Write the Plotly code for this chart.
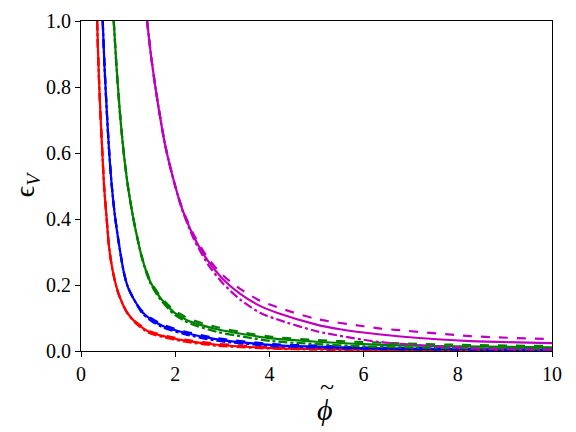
import plotly.graph_objects as go

# valores: phi tilde (x) y epsilon_V (y) para cada curva

# rojo
phi_rojo = [0.342, 0.37, 0.412, 0.45, 0.49, 0.54, 0.589, 0.64, 0.695, 0.80, 0.98, 1.15,
            1.33, 1.473, 1.9, 2.18, 2.89, 4.09, 5.0, 6.0, 8.0, 10.0]
eps_rojo = [1.0, 0.87, 0.72, 0.61, 0.50, 0.41, 0.325, 0.27, 0.228, 0.172, 0.116, 0.088,
            0.068, 0.056, 0.040, 0.032, 0.019, 0.009, 0.006, 0.004, 0.003, 0.002]
phi_rojo_cola = [1.15, 1.33, 1.473, 1.9, 2.18, 2.89, 4.09, 5.0, 6.0, 8.0, 10.0]
eps_rojo_guion = [0.090, 0.071, 0.059, 0.043, 0.035, 0.022, 0.011, 0.008, 0.006, 0.004, 0.003]
eps_rojo_punto = [0.086, 0.065, 0.053, 0.037, 0.029, 0.016, 0.007, 0.004, 0.003, 0.002, 0.001]

# azul
phi_azul = [0.461, 0.50, 0.554, 0.60, 0.652, 0.72, 0.80, 0.907, 1.0, 1.15, 1.30, 1.473,
            1.75, 2.18, 2.89, 4.09, 5.0, 6.0, 7.0, 8.0, 10.0]
eps_azul = [1.0, 0.86, 0.71, 0.60, 0.503, 0.41, 0.33, 0.24, 0.192, 0.15, 0.118, 0.097,
            0.075, 0.056, 0.035, 0.018, 0.013, 0.009, 0.007, 0.006, 0.004]
phi_azul_cola = [1.30, 1.473, 1.75, 2.18, 2.89, 4.09, 5.0, 6.0, 7.0, 8.0, 10.0]
eps_azul_guion = [0.121, 0.101, 0.079, 0.060, 0.039, 0.021, 0.016, 0.011, 0.009, 0.008, 0.006]
eps_azul_punto = [0.115, 0.093, 0.071, 0.052, 0.031, 0.015, 0.010, 0.007, 0.005, 0.004, 0.003]

# verde
phi_verde = [0.695, 0.75, 0.822, 0.90, 0.992, 1.10, 1.20, 1.30, 1.47, 1.69, 1.97, 2.18,
             2.32, 2.89, 3.5, 4.05, 5.0, 6.0, 6.78, 8.0, 10.0]
eps_verde = [1.0, 0.87, 0.73, 0.61, 0.503, 0.41, 0.34, 0.28, 0.21, 0.16, 0.118, 0.099,
             0.089, 0.066, 0.050, 0.038, 0.028, 0.021, 0.017, 0.014, 0.011]
phi_verde_cola = [1.30, 1.47, 1.69, 1.97, 2.18, 2.32, 2.89, 3.5, 4.05, 5.0, 6.0, 6.78, 8.27, 10.0]
eps_verde_guion = [0.282, 0.214, 0.165, 0.124, 0.106, 0.096, 0.072, 0.055, 0.043, 0.033,
                   0.027, 0.023, 0.018, 0.015]
eps_verde_punto = [0.278, 0.206, 0.155, 0.112, 0.093, 0.083, 0.058, 0.042, 0.030, 0.021,
                   0.014, 0.011, 0.008, 0.006]

# magenta
phi_magenta = [1.403, 1.50, 1.65, 1.80, 2.0, 2.15, 2.4, 2.7, 3.0, 3.38, 3.81, 4.16, 5.0,
               5.5, 6.36, 6.78, 8.27, 10.0]
eps_magenta = [1.0, 0.88, 0.735, 0.615, 0.50, 0.43, 0.345, 0.272, 0.22, 0.173, 0.136, 0.116,
               0.080, 0.066, 0.050, 0.044, 0.030, 0.024]
phi_magenta_cola = [2.15, 2.4, 2.7, 3.0, 3.38, 3.81, 4.16, 5.0, 6.0, 6.36, 6.78, 8.27, 10.0]
eps_magenta_guion = [0.433, 0.351, 0.281, 0.231, 0.188, 0.152, 0.133, 0.097, 0.075, 0.068,
                     0.063, 0.045, 0.036]
eps_magenta_punto = [0.427, 0.338, 0.262, 0.207, 0.156, 0.115, 0.096, 0.060, 0.034, 0.027,
                     0.022, 0.008, 0.004]

ejes_x = [0, 2, 4, 6, 8, 10]
ejes_y = [0.0, 0.2, 0.4, 0.6, 0.8, 1.0]


def _unir(phi_base, eps_base, phi_cola, eps_cola):
    # la parte alta coincide con la curva sólida; la cola se separa
    inicio = phi_cola[0]
    xs = [p for p in phi_base if p < inicio] + phi_cola
    ys = [e for p, e in zip(phi_base, eps_base) if p < inicio] + eps_cola
    return xs, ys


curvas = [
    ("red", phi_rojo, eps_rojo, phi_rojo_cola, eps_rojo_guion, eps_rojo_punto),
    ("blue", phi_azul, eps_azul, phi_azul_cola, eps_azul_guion, eps_azul_punto),
    ("green", phi_verde, eps_verde, phi_verde_cola, eps_verde_guion, eps_verde_punto),
    ("#bf00bf", phi_magenta, eps_magenta, phi_magenta_cola, eps_magenta_guion, eps_magenta_punto),
]

fig = go.Figure()

for color, phi, eps, phi_cola, eps_g, eps_p in curvas:
    fig.add_trace(go.Scatter(x=phi, y=eps, mode="lines",
                             line=dict(color=color, width=2.2, shape="spline", smoothing=0.8)))
    xs, ys = _unir(phi, eps, phi_cola, eps_g)
    fig.add_trace(go.Scatter(x=xs, y=ys, mode="lines",
                             line=dict(color=color, width=2.2, dash="dash", shape="spline", smoothing=0.8)))
    xs, ys = _unir(phi, eps, phi_cola, eps_p)
    fig.add_trace(go.Scatter(x=xs, y=ys, mode="lines",
                             line=dict(color=color, width=2.2, dash="dashdot", shape="spline", smoothing=0.8)))

# la página deja 8 px de margen en el body: la figura se reduce para caber
fig.update_layout(
    width=568, height=424,
    margin=dict(l=73, r=24, t=13, b=81),
    paper_bgcolor="white", plot_bgcolor="white",
    showlegend=False,
    font=dict(family="Liberation Serif, serif", size=20, color="black"),
)

fig.update_xaxes(
    range=[0, 10], tickvals=ejes_x, ticktext=[str(v) for v in ejes_x],
    showline=True, linecolor="black", linewidth=1, mirror=True, automargin=False,
    ticks="outside", ticklen=5, tickcolor="black", showgrid=False, zeroline=False,
)
fig.update_yaxes(
    range=[0, 1], tickvals=ejes_y, ticktext=[f"{v:.1f}" for v in ejes_y],
    showline=True, linecolor="black", linewidth=1, mirror=True, automargin=False,
    ticks="outside", ticklen=5, tickcolor="black", showgrid=False, zeroline=False,
)

# títulos de los ejes como anotaciones (la tilde va encima de phi)
fig.add_annotation(text="<i>ϕ</i>", xref="paper", yref="paper", x=0.519, y=-0.178,
                   showarrow=False, font=dict(size=30), xanchor="center", yanchor="middle")
fig.add_annotation(text="~", xref="paper", yref="paper", x=0.522, y=-0.108,
                   showarrow=False, font=dict(size=26), xanchor="center", yanchor="middle")
fig.add_annotation(text="ϵ<sub><i>V</i></sub>", xref="paper", yref="paper", x=-0.115, y=0.505,
                   showarrow=False, font=dict(size=28), textangle=-90,
                   xanchor="center", yanchor="middle")

fig.write_html("out.html")
